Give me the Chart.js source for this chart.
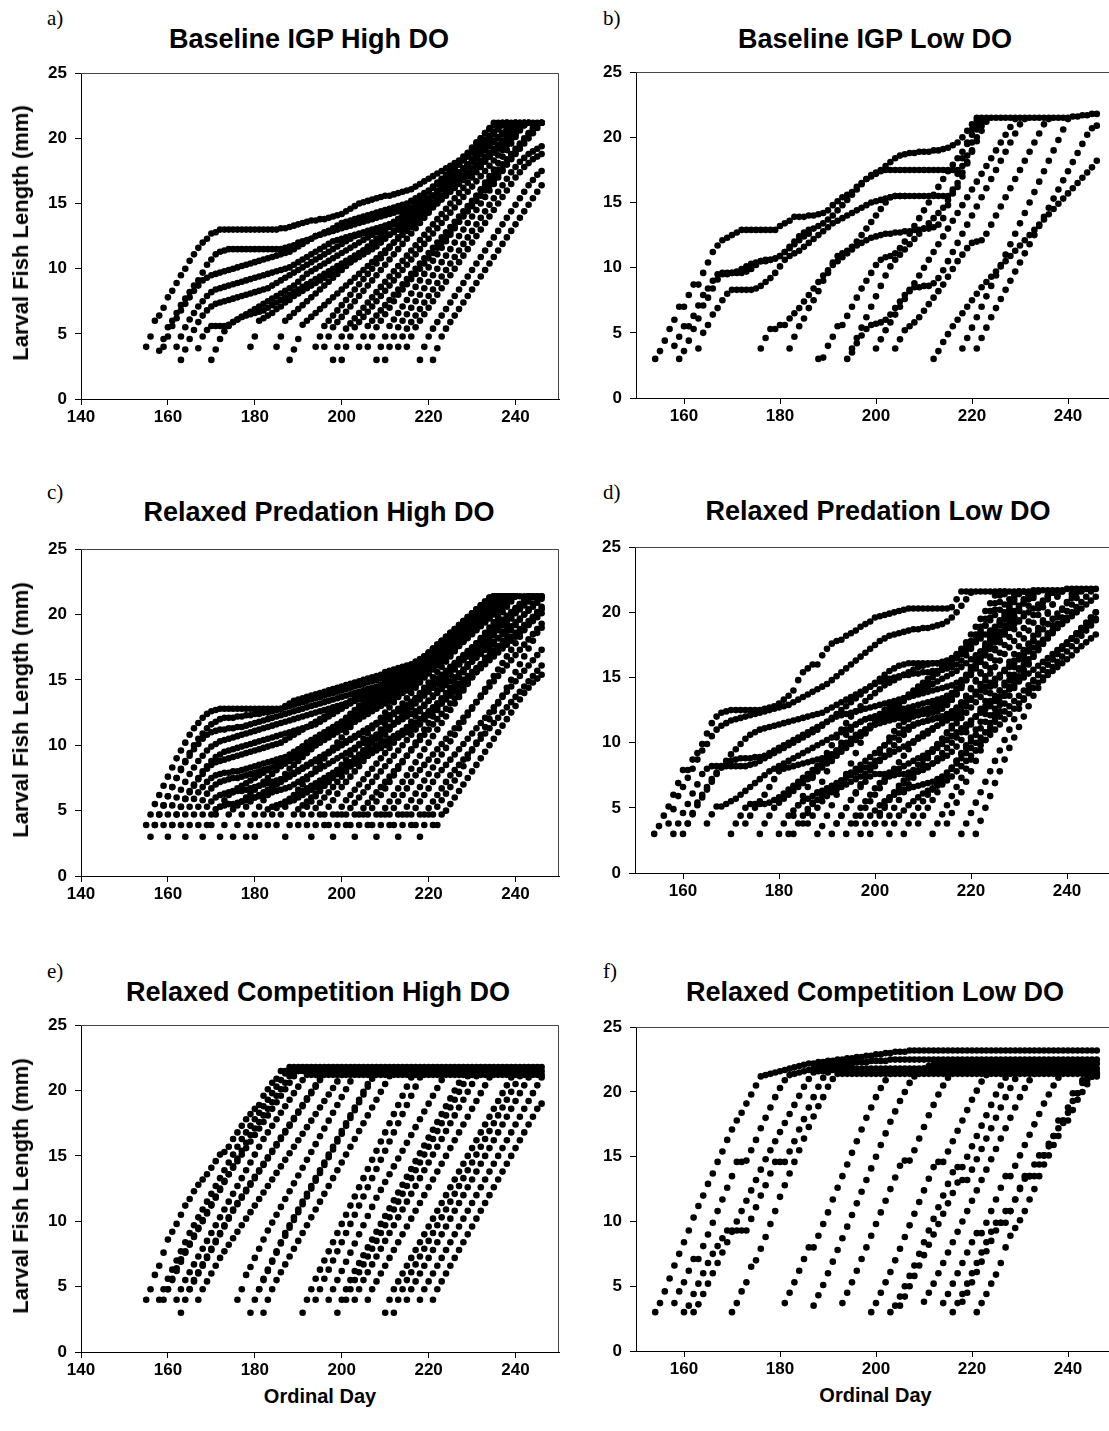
<!DOCTYPE html>
<html>
<head>
<meta charset="utf-8">
<script src="https://cdn.jsdelivr.net/npm/chart.js@4.4.1/dist/chart.umd.min.js"></script>
<style>
  html, body { margin: 0; padding: 0; background: #fff; }
  body { width: 1109px; height: 1431px; position: relative; overflow: hidden; font-family: "Liberation Sans", Arial, sans-serif; }
  .title { position: absolute; font-weight: bold; font-size: 27px; line-height: 27px; white-space: nowrap; transform: translateX(-50%); }
  .letter { position: absolute; font-family: "Liberation Serif", "Times New Roman", serif; font-size: 21px; line-height: 21px; }
  .ylab { position: absolute; font-weight: bold; font-size: 22px; line-height: 22px; white-space: nowrap; transform: translate(-50%, -50%) rotate(-90deg); }
  .xlab { position: absolute; font-weight: bold; font-size: 20px; line-height: 20px; white-space: nowrap; transform: translateX(-50%); }
</style>
</head>
<body>
<script>
// axis ticks
const dayTicksLeft = [140, 160, 180, 200, 220, 240];
const dayTicksRight = [160, 180, 200, 220, 240];
const lengthTicks = [0, 5, 10, 15, 20, 25];

const panelTitles = ['Baseline IGP High DO', 'Baseline IGP Low DO', 'Relaxed Predation High DO',
  'Relaxed Predation Low DO', 'Relaxed Competition High DO', 'Relaxed Competition Low DO'];
const panelLetters = ['a)', 'b)', 'c)', 'd)', 'e)', 'f)'];

// one entry per larva: [first ordinal day, daily lengths in tenths of a mm]
const growthA = [
  [155,[40,48,60,64,70,78,83,89,95,100,106,111,116,120,123,127,128,130,130,130,130,130,130,130,130,130,130,130,130,130,130,131,131,132,133,134,135,136,137,137,138,138,139,140,141,142,144,146,148,150,151,152,153,154,155,156,156,157,158,159,160,161,163,165,167,169,171,173,175,177,179,181,183,186,189,193,197,200,204,207,210,212,212,212,212,212,212,212,212,212,212,212]],
  [158,[37,46,55,60,66,72,77,82,87,91,97,103,107,111,113,114,115,115,115,115,115,115,115,115,115,115,115,115,115,116,117,118,120,121,122,123,125,126,128,129,131,133,135,136,137,138,139,140,141,142,143,144,145,146,147,148,149,150,152,154,156,158,160,163,166,169,172,175,178,181,184,187,190,193,196,199,202,205,208,211,212]],
  [159,[40,48,56,62,68,73,78,83,87,91,93,95,96,97,98,99,100,101,102,103,104,105,106,107,108,109,110,111,112,113,115,117,119,121,123,125,126,127,128,129,130,131,132,133,134,135,136,137,138,139,140,141,142,143,144,145,146,147,148,150,152,154,156,158,161,164,167,170,173,176,179,182,185,188,191,194,197,200,203,206,209,212]],
  [162,[40,48,55,61,66,71,75,79,82,84,85,86,87,88,89,90,91,92,93,94,95,96,97,98,99,100,101,103,105,107,109,111,113,115,117,119,121,122,123,124,125,126,127,128,129,130,131,132,133,134,135,136,137,138,139,140,142,144,146,148,150,153,156,159,162,165,168,171,174,177,180,183,186,189,192,195,198,201,204,207,210,212]],
  [163,[30,38,46,53,59,64,68,71,73,74,75,76,77,78,79,80,81,82,83,84,85,87,89,91,93,95,97,99,101,103,105,107,109,111,113,115,117,119,121,123,125,126,127,128,129,130,131,132,133,134,135,137,139,141,143,145,147,149,151,153,155,158,161,164,167,170,173,176,179,182,185,188,191,194,197,200,203,206,209,212]],
  [167,[39,48,53,56,56,56,56,57,59,61,63,65,67,69,71,73,75,77,79,81,83,85,87,90,93,96,98,100,102,104,106,108,110,112,114,116,118,120,122,124,126,128,130,132,134,136,138,140,142,144,146,148,150,153,156,159,162,165,168,171,174,177,180,183,186,189,192,195,198,201,204,207,210,212]],
  [170,[30,38,46,52,56,59,61,63,64,65,66,67,68,70,72,74,76,78,80,82,84,86,88,90,92,94,96,98,100,102,104,106,108,110,112,114,116,118,120,122,124,126,128,130,132,134,136,138,141,144,147,150,153,156,159,162,165,168,171,174,177,180,183,186,189,192,195,198,201,204,207,210,212]],
  [179,[40,48,60,62,64,66,69,71,74,76,79,81,83,85,87,89,91,93,95,97,99,101,103,105,107,109,111,113,115,117,120,123,126,129,132,135,138,141,144,147,150,153,156,159,162,165,168,171,174,177,180,183,186,189,192,195,198,201,204,207,210,212]],
  [185,[40,48,60,63,66,69,72,75,78,81,84,87,90,93,96,99,102,105,108,111,114,117,120,123,126,129,132,135,138,141,144,147,150,153,156,159,162,165,168,171,174,177,180,183,186,189,192,195,198,201,204,207,210,212]],
  [188,[30,38,46,57,60,63,66,69,72,75,78,81,84,87,90,93,96,99,102,105,108,111,114,117,120,123,126,129,132,135,138,141,144,148,152,156,160,164,168,172,176,180,184,188,192,196,200,204,208,212]],
  [194,[40,48,56,60,64,68,72,76,80,84,88,92,96,100,104,108,112,116,120,124,128,132,136,140,144,148,152,156,160,164,168,172,176,180,184,188,192,196,200,204,208,212]],
  [196,[40,48,55,59,63,67,71,75,79,83,87,91,95,99,103,107,111,115,119,123,127,131,135,139,143,147,151,155,159,163,167,171,175,179,183,187,191,195,199,203,207,211,212]],
  [198,[30,40,48,54,58,62,66,70,74,78,82,86,90,94,98,102,106,110,114,118,122,126,130,134,138,142,146,150,154,158,162,166,170,174,178,182,186,190,194,198,202,206,210,212]],
  [200,[30,40,48,55,59,63,67,71,75,79,83,87,91,95,99,103,107,111,115,119,123,127,131,135,139,143,147,151,155,159,163,167,171,175,179,183,187,191,195,199,203,207,211,212]],
  [204,[40,48,56,60,64,68,72,76,80,84,88,92,96,100,104,108,112,116,120,124,128,132,136,140,144,148,152,156,160,164,168,172,176,180,184,188,192,196,200,204,208,211,212]],
  [206,[40,48,55,60,65,70,75,80,84,88,92,96,100,104,108,112,116,120,124,128,132,136,140,144,148,152,156,160,164,168,172,176,180,184,188,192,196,200,204,208,212]],
  [208,[30,40,48,56,61,66,71,76,81,86,91,96,101,106,111,116,121,126,131,136,141,146,151,156,161,166,171,176,181,186,191,196,201,206,210,212]],
  [210,[30,40,48,55,60,65,70,75,80,85,90,95,100,105,110,115,120,125,130,135,140,145,150,155,160,165,170,175,180,185,190,195,199,203,207,210,212]],
  [213,[40,48,54,59,64,69,74,79,84,89,94,99,104,109,114,119,124,129,134,139,144,149,154,159,164,169,174,178,182,185,188,190,192,194]],
  [215,[40,48,55,60,65,70,75,80,85,90,95,100,105,110,115,120,125,130,135,140,145,150,155,160,165,170,174,178,181,184,186,188]],
  [218,[30,40,48,54,59,64,69,74,79,84,89,94,99,104,109,114,119,124,129,134,139,144,149,154,159,164,168,172,175]],
  [221,[30,39,48,54,59,64,69,74,79,84,89,94,99,104,109,114,119,124,129,134,139,144,149,154,159,164]]
];

const growthB = [
  [154,[30,36,44,53,60,70,70,79,87,87,96,104,112,117,121,123,125,127,129,129,129,129,129,129,129,129,132,134,136,139,139,139,140,140,141,142,144,148,151,154,156,158,162,165,168,170,172,175,178,181,184,186,187,188,188,189,189,189,190,190,191,192,194,196,200,205,210,215,215,215,215,215,215,215,215,215,215,215,215,215,215,215,215,215,215,215,215,216,216,217,217,218,218]],
  [158,[40,47,55,55,63,71,79,84,90,95,95,95,96,97,99,101,103,104,105,105,106,107,109,112,116,120,124,127,129,130,132,134,137,140,144,148,152,156,160,164,168,171,173,174,175,175,175,175,175,175,175,175,175,175,175,175,175,175,175,175,178,186,196,206,213]],
  [159,[30,36,44,53,61,71,77,84,91,96,96,96,96,96,97,99,102,105,106,106,107,109,112,115,118,121,124,126]],
  [163,[38,50,56,64,69,75,80,83,83,83,83,83,84,86,89,92,96,101,106,109,111,113,116,119,122,125,128,131,134,136,138,140,142,144,146,148,150,151,152,153,154,155,155,155,155,155,155,155,155,155,155,155,155,157,162,170,180,190,200,209,214]],
  [176,[38,46,53,53,56,56,61,65,69,74,79,84,89,94,98,102,105,108,111,114,117,119,121,123,124,125,126,126,127,127,128,128,129,129,130,130,131,133,138,148,160,172,184,196,206,213]],
  [182,[38,47,55,61,69,75,82,90,96,104,109,111,113,116,120,125,130,135,140,145,150,154,155,155,155]],
  [188,[30,31,40,47,55,56,63,70,77,84,90,96,102,106,108,109,111,115,120,126,132,138,144,150,156,162,168,174,179,184,189,195,202,209,214]],
  [194,[30,35,42,48,53,56,57,58,60,64,69,74,79,83,85,85,86,86,88,92,98,105,112,119,126,133,140,147,154,161,168,175,182,189,196,203,210,214]],
  [195,[38,46,54,62,70,78,86,94,101,106,110,114,118,122,126,130,134,138,142,146,152,158,165,173,181,189,197,205,212]],
  [200,[38,45,52,58,64,70,76,82,88,94,100,106,112,118,124,130,136,142,148,154,160,166,172,178,184,190,196,202,208,214]],
  [204,[38,45,52,55,58,62,67,72,77,82,87,93,99,105,110,115,119,120,121,126,133,140,147,154,161,168,175,182,189,196,203,210,214]],
  [212,[30,36,43,49,55,60,65,70,75,80,85,89,93,97,101,105,109,113,117,121,125,129,133,137,141,145,149,153,157,161,165,169,173,177,182]],
  [218,[38,46,54,62,70,78,86,94,102,110,118,126,134,142,150,158,166,174,182,190,198,206,214]],
  [221,[38,46,54,62,69,76,83,90,97,104,111,118,125,132,139,146,153,160,167,174,181,188,195,202,207,209]]
];

const growthC = [
  [155,[39,47,55,62,69,76,83,90,96,102,108,113,117,121,124,126,127,128,128,128,128,128,128,128,128,128,128,128,128,128,128,128,130,132,134,135,136,137,138,139,140,141,142,143,144,145,146,147,148,149,150,151,152,153,154,156,157,158,159,160,161,162,164,166,168,171,174,177,180,183,186,189,192,195,198,201,204,207,210,213,214,214,214,214,214,214,214,214,214,214,214,214]],
  [157,[39,47,54,61,68,75,82,88,94,100,105,109,113,116,118,120,121,121,121,122,122,123,123,124,124,125,125,126,127,128,129,130,131,132,133,134,135,136,137,138,139,140,141,142,143,144,145,146,147,148,149,150,151,152,153,154,155,156,157,158,160,162,164,167,170,173,176,179,182,185,188,191,194,197,200,203,206,209,212,214]],
  [156,[30,39,47,54,61,68,75,81,87,92,97,101,105,108,110,111,112,112,113,113,114,114,115,116,117,118,119,120,121,122,123,124,125,126,127,128,129,130,131,132,133,134,135,136,137,138,139,140,141,142,143,144,145,146,147,148,149,150,151,152,153,154,156,158,160,163,166,169,172,175,178,181,184,187,190,193,196,199,202,205,208,211,214]],
  [159,[39,47,54,60,66,72,78,83,88,92,96,99,101,103,104,105,106,107,108,109,110,111,112,113,114,115,116,117,118,119,120,121,122,123,124,125,126,127,128,129,130,131,132,133,134,135,136,137,138,139,140,141,142,143,144,145,147,149,151,153,155,158,161,164,167,170,173,176,179,182,185,188,191,194,197,200,203,206,209,212,214]],
  [160,[30,39,47,53,59,65,70,75,80,84,88,91,93,95,96,97,98,99,100,101,102,103,104,105,106,107,108,109,110,111,112,113,114,115,116,118,120,122,124,126,128,130,132,134,136,138,140,142,144,146,148,150,152,154,156,158,160,162,164,166,168,171,174,177,180,183,186,189,192,195,198,201,204,207,210,213,214]],
  [161,[39,47,53,59,64,69,74,78,82,85,87,88,89,90,91,92,93,94,95,96,97,98,99,100,101,102,104,106,108,110,112,114,116,118,120,122,124,126,128,130,132,134,136,138,140,141,142,143,144,145,146,147,148,149,150,152,154,156,158,160,163,166,169,172,175,178,181,184,187,190,193,196,199,202,205,208,211,214]],
  [163,[39,47,53,59,64,68,72,75,77,78,79,79,80,80,81,82,83,84,85,86,87,88,89,90,91,93,95,97,99,101,103,105,107,109,111,113,115,117,119,121,123,125,127,129,131,133,135,137,139,141,143,145,147,149,151,154,157,160,163,166,169,172,175,178,181,184,187,190,193,196,199,202,205,208,211,214]],
  [164,[30,39,47,53,58,63,67,70,72,73,74,75,75,76,77,78,79,80,81,82,83,84,85,86,88,90,92,94,96,98,100,102,104,106,108,110,112,114,116,118,120,122,124,126,128,130,132,134,136,138,140,142,144,146,149,152,155,158,161,164,167,170,173,176,179,182,185,188,191,194,197,200,203,206,209,212,214]],
  [167,[39,47,53,57,60,62,63,64,64,65,65,66,67,68,69,70,71,72,73,74,75,77,79,81,83,85,87,89,91,93,95,97,99,101,103,105,107,109,111,113,115,117,119,121,123,125,127,129,131,133,135,138,141,144,147,150,153,156,159,162,165,168,171,174,177,180,183,186,189,192,195,198,201,204,207,210,213,214]],
  [168,[30,39,47,51,53,54,55,55,56,57,58,59,60,61,62,63,64,65,66,67,68,70,72,74,76,78,80,82,84,86,88,90,92,94,96,98,100,102,104,106,108,110,112,114,116,118,120,122,124,126,128,131,134,137,140,143,146,149,152,155,158,161,164,167,170,173,176,179,182,185,188,191,194,197,200,203,206,209,212]],
  [170,[39,47,53,58,62,65,67,69,71,73,75,77,79,81,83,85,87,89,91,93,95,97,99,101,103,105,107,109,111,113,115,117,119,121,123,125,127,129,131,133,135,137,139,141,143,145,147,149,151,153,156,159,162,165,168,171,174,177,180,183,186,189,192,195,198,201,204,207,210,213,214]],
  [172,[30,39,47,51,54,57,60,63,66,69,72,75,78,81,84,87,90,93,96,99,102,104,106,108,110,112,114,116,118,120,122,124,126,128,130,132,134,136,138,140,142,144,146,148,150,152,154,156,158,160,163,166,169,172,175,178,181,184,187,190,193,196,199,202,205,208,211,214]],
  [175,[30,39,47,53,57,60,62,64,66,68,70,72,74,76,78,80,82,84,86,88,90,92,94,96,98,100,102,104,106,108,110,112,114,116,118,120,122,124,126,128,130,133,136,139,142,145,148,151,154,157,160,163,166,169,172,175,178,181,184,187,190,193,196,199,202,205,208,211,214]],
  [178,[30,39,47,53,58,62,66,70,74,78,82,85,88,91,94,97,100,103,106,109,112,115,118,121,124,127,130,132,134,136,138,140,142,144,146,148,150,152,154,156,158,160,162,164,166,168,171,174,177,180,183,186,189,192,195,198,201,204,207,210,213,214]],
  [180,[30,39,47,51,53,54,55,56,57,58,60,62,64,66,68,70,72,74,76,78,80,82,84,86,88,90,92,94,96,98,100,102,104,106,108,110,112,114,117,120,123,126,129,132,135,138,141,144,147,150,153,156,159,162,165,168,171,174,177,180,183,186,189,192,195,198,201]],
  [183,[39,47,52,55,57,59,61,63,65,67,69,71,73,75,77,79,81,83,85,87,89,91,93,95,97,99,101,103,105,107,109,111,113,115,117,120,123,126,129,132,135,138,141,144,147,150,153,156,159,162,165,168,171,174,177,180,183,186,189,192,195,198,201,204]],
  [185,[39,47,53,58,62,66,70,74,78,82,86,90,94,98,102,106,110,114,118,122,126,129,132,135,138,141,144,147,150,153,156,159,162,165,168,171,174,177,180,183,186,189,192,195,198,201,204,207,210,213,214]],
  [187,[30,39,47,51,54,57,60,63,66,69,72,75,78,81,84,87,90,93,96,99,102,105,108,111,114,117,120,123,126,129,132,135,138,141,144,147,150,153,156,159,162,165,168,171,174,177,180,183,186,189,192,195,198,201,204,207,210,213,214]],
  [190,[39,47,53,57,61,65,69,73,77,81,85,89,93,97,101,105,109,113,117,121,125,129,133,137,141,145,149,153,157,161,164,167,170,173,176,179,182,185,188,191,194,197,200,203,206,209,212,214]],
  [192,[39,47,52,56,60,64,68,72,76,80,84,88,92,96,100,104,108,112,116,120,124,128,132,136,140,144,148,152,156,160,164,168,172,176,180,184,188,192,196,200,204,208,212,214]],
  [193,[30,39,47,47,53,58,63,68,72,76,80,84,88,92,96,100,104,108,112,116,120,124,128,132,136,140,144,148,152,156,160,164,168,172,176,180,184,188,192,196,200,204,208,212,214]],
  [196,[39,39,47,47,53,58,62,66,70,74,78,82,86,90,94,98,102,106,110,114,118,122,126,130,134,138,142,146,150,154,158,162,166,170,174,178,182,186,190,194,198,202,206,210,214]],
  [198,[30,39,47,47,52,56,60,64,68,72,76,80,84,88,92,96,100,104,108,112,116,120,124,128,132,136,140,144,148,152,156,160,164,168,172,176,180,184,188,192,196,200,204,208,212,214]],
  [201,[39,39,47,47,52,56,60,64,68,72,76,80,84,88,92,96,100,104,108,112,116,120,124,128,132,136,140,144,148,152,156,160,164,168,172,176,180,184,188,192,196,200,204,208,212,214]],
  [203,[30,39,47,47,52,57,62,67,72,77,82,87,92,97,102,107,112,117,122,127,132,137,142,147,152,157,162,167,172,177,182,187,192,197,202,207,212,214]],
  [206,[39,39,47,47,52,57,62,67,72,77,82,87,92,97,102,107,112,117,122,127,132,137,142,147,152,157,162,167,172,177,182,187,192,197,202,207,212,214]],
  [208,[30,39,47,47,52,57,62,67,72,77,81,85,89,93,97,101,105,109,113,117,121,125,129,133,137,141,145,149,153,157,161,165,169,173,177,181,185,189,193]],
  [211,[39,39,47,47,53,58,63,68,73,78,83,88,93,98,103,108,113,118,123,128,133,138,143,148,153,158,163,168,173,178,183,188,193,198,202,206]],
  [213,[30,39,47,47,52,57,62,67,72,77,81,85,89,93,97,101,105,109,113,117,121,125,129,133,137,141,145,149,153,157,161,165,169,173]],
  [216,[39,39,47,47,52,57,62,67,72,77,81,85,89,93,97,101,105,109,113,117,121,125,129,133,137,141,145,149,153,157,161]],
  [218,[30,39,47,47,53,58,63,68,73,78,84,90,96,102,108,114,120,126,132,138,144,150,156,162,168,174,180,186,190]],
  [221,[39,39,47,50,55,60,65,70,75,80,85,90,95,100,105,110,115,120,125,130,135,140,144,148,151,154]]
];

const growthD = [
  [154,[30,36,44,51,60,69,79,79,87,92,99,107,115,120,123,124,125,125,125,125,125,125,125,126,127,128,130,133,136,140,148,154,157,160,160,167,172,176,178,179,182,184,186,189,191,193,196,197,198,199,200,201,202,203,203,203,203,203,203,203,203,203,204,210,216,216,216,216,216,216,216,216,216,216,216,216,216,216,216,217,217,217,217,217,217,217,218,218,218,218,218,218,218]],
  [157,[38,49,59,66,73,80,87,94,99,105,110,113,115,117,118,119,120,121,122,123,124,125,126,127,128,129,131,133,135,137,139,141,143,145,148,151,154,157,160,163,166,169,172,175,178,180,182,183,184,185,186,187,187,188,188,189,190,191,193,196,200,205,210,215]],
  [158,[30,38,46,53,61,68,76,80,82,82,82,82,82,82,82,82,83,84,86,88,90,92,94,96,98,100,102,104,106,108,110,113,116,119,122,125,128,131,134,137,140,143,146,149,152,155,157,159,160,161,161,161,161,161,161,161,162,163,165,168,172,177,183,189,195,201,207,213,216]],
  [160,[30,38,45,52,58,64,70,76,81,86,91,95,99,103,106,108,110,111,112,113,114,115,116,117,118,119,120,121,122,123,125,127,129,131,133,135,137,139,141,143,145,147,148,149,150,151,152,152,153,153,154,154,155,155,156,157,158,160,163,167,172,178,184,190,196,202,208,214]],
  [161,[38,46,54,60,66,72,77,81,84,86,87,88,88,88,89,89,90,92,94,96,98,100,102,104,106,108,110,112,114,116,118,120,121,122,123,124,125,126,127,128,129,130,131,132,133,134,135,136,137,138,139,140,141,142,143,144,146,148,151,155,160,165,170,175,180,185,190,195,200,205,210,215]],
  [165,[38,45,51,51,53,55,57,60,63,66,69,72,75,78,80,82,84,86,88,90,92,94,96,98,100,102,104,106,108,110,112,114,116,118,119,120,121,122,123,124,125,126,127,128,129,130,131,132,133,134,136,138,141,144,148,152,157,162,167,172,177,182,187,192,197,202,207,212,216]],
  [170,[30,38,44,50,53,53,53,53,54,56,58,61,64,67,70,73,76,79,82,85,88,91,94,97,100,103,106,108,110,112,114,115,116,117,118,119,120,120,121,121,122,122,123,124,126,129,133,138,144,150,156,162,168,174,180,186,192,198,204,210,215]],
  [173,[38,44,50,55,60,66,72,78,80,81,82,83,84,85,86,87,88,89,90,92,95,98,101,104,107,110,113,116,119,122,125,128,131,134,137,140,143,146,149,152,155,158,161,164,167,170,174,178,182,186,190,194,198,202,206,210,214,216]],
  [176,[30,38,44,50,54,57,60,63,66,69,72,75,78,81,84,87,90,93,96,99,102,105,108,111,114,117,120,123,126,129,132,135,138,141,144,147,150,153,156,159,162,165,168,171,174,177,180,183,186,189,192,195,198,201,204,207,210,213,216]],
  [180,[30,38,44,48,52,55,57,59,61,63,65,67,69,71,73,75,77,79,81,83,85,87,89,91,93,95,97,99,101,103,105,107,110,113,116,119,122,125,128,131,134,137,140,143,146,149,152,155,158,161,164,167,170,173,176,179,182,185,188,191,194,197,200,203,206,209,212]],
  [182,[30,44,52,59,66,73,80,86,92,98,104,110,115,120,124,128,132,135,138,141,144,146,148,150,152,154,156,158,159,160,161,161,161,162,163,165,168,172,177,183,189,195,201,207,213,216]],
  [183,[30,38,44,49,53,56,59,62,65,68,71,74,77,80,83,86,89,92,95,98,101,104,107,110,112,114,115,116,117,118,119,120,121,123,126,130,135,141,147,153,159,165,171,177,183,189,195,201,207,213,216]],
  [185,[38,46,54,62,70,78,86,94,100,106,110,114,116,118,119,120,120,121,121,122,122,123,123,124,124,125,125,126,127,128,130,133,137,142,148,154,160,166,172,178,184,190,196,202,208,214,216]],
  [186,[38,44,50,55,59,62,64,66,68,70,72,74,76,79,82,86,90,94,98,102,106,110,113,115,116,117,118,119,120,122,124,127,131,136,142,148,154,160,166,172,178,184,190,196,202,208,214,216]],
  [188,[30,36,44,52,60,68,76,84,92,100,107,113,118,122,125,127,129,131,133,135,137,139,141,143,145,147,149,151,153,155,158,161,164,167,170,173,176,179,182,185,188,191,194,197,200,203,206,209,212,215]],
  [191,[30,38,44,50,56,61,66,70,74,76,76,76,77,78,80,82,84,86,88,90,92,94,96,99,102,105,108,111,114,117,120,123,126,129,132,135,138,141,144,147,150,153,156,159,162,165,168,171,174,177,180,183,186,189,192,195]],
  [192,[38,44,50,56,62,68,74,80,86,92,98,104,109,113,116,118,120,122,124,126,128,130,132,134,137,141,146,152,158,164,170,176,182,188,194,200,206,212,216]],
  [194,[30,38,44,50,55,60,65,69,72,74,75,76,76,77,77,78,79,81,84,88,92,96,100,104,108,112,116,120,124,128,132,136,140,144,148,152,156,160,164,168,172,176,180,184,188,192,196,200,204,208,212,216]],
  [196,[38,44,50,55,60,65,70,75,80,85,90,95,100,104,107,109,111,113,115,117,119,121,124,128,133,139,145,151,157,163,169,175,181,187,193,199,205,211,216]],
  [197,[30,38,44,48,52,55,58,60,62,64,65,66,67,68,69,70,72,74,77,81,86,91,96,101,106,111,116,121,126,131,136,141,146,151,156,161,166,171,176,181,186,191,196,201,206,211,216]],
  [199,[30,38,44,50,56,61,65,69,73,76,78,80,82,84,86,88,90,93,97,102,108,114,120,126,132,138,144,150,156,162,168,174,180,186,192,198,204,210,215]],
  [200,[38,46,52,57,62,67,71,75,79,83,87,91,95,99,103,107,111,115,119,123,127,131,135,139,143,147,151,155,159,163,167,171,175,179,183,187,191,195,199,203,207,211,215]],
  [202,[38,44,50,56,62,68,73,78,83,88,93,98,103,108,113,118,123,128,133,138,143,148,153,158,163,168,173,178,183,188,193,198,203,208,213,216]],
  [203,[30,38,44,48,52,55,58,61,63,65,67,69,71,74,78,82,86,90,94,98,102,106,110,114,118,122,126,130,134,138,142,146,150,154,158,162,166,170,174,178,182,186,190,194]],
  [206,[30,38,44,50,55,60,64,68,72,76,80,84,88,92,96,100,104,108,112,116,120,124,128,132,136,140,144,148,152,156,160,164,168,172,176,180,184,188,192,196,200]],
  [209,[38,44,50,56,62,68,74,80,86,92,98,104,110,116,122,128,134,140,146,152,158,164,170,176,182,188,194,200,206,212,216]],
  [212,[30,38,45,52,59,66,73,80,87,94,101,108,115,122,129,136,143,150,157,164,171,178,185,192,199,206,213,216]],
  [215,[38,46,54,62,70,78,86,94,102,110,118,124,130,136,142,148,154,160,166,172,178,184,190,196,202,208,214,216]],
  [218,[30,38,46,54,62,70,78,86,94,102,110,118,126,133,140,147,152,156,160,164,168,172,176,180,184,188,192,196,200]],
  [221,[30,40,50,59,69,78,87,96,104,112,120,128,136,142,148,152,155,158,161,164,167,171,174,177,180,183]]
];

const growthE = [
  [155,[40,48,59,66,76,86,92,98,105,112,117,123,128,132,136,141,146,151,153,157,163,168,173,178,182,186,189,196,201,206,209,215,215,215,215,215,215,215,215,215,215,215,215,215,215,215,215,215,215,215,215,215,215,215,215,215,215,215,215,215,215,215,215,215,215,215,215,215,215,215,215,215,215,215,215,215,215,215,215,215,215,215,215,215,215,215,215,215,215,215,215,215]],
  [158,[40,48,56,63,70,77,84,91,97,103,109,115,121,127,133,139,145,151,157,163,168,173,178,183,188,193,198,203,208,213,218,218,218,218,218,218,218,218,218,218,218,218,218,218,218,218,218,218,218,218,218,218,218,218,218,218,218,218,218,218,218,218,218,218,218,218,218,218,218,218,218,218,218,218,218,218,218,218,218,218,218,218,218,218,218,218,218,218,218]],
  [159,[40,48,55,62,69,76,82,88,94,100,106,112,118,124,130,136,142,148,154,160,166,171,176,181,186,191,196,201,206,211,214]],
  [160,[48,56,64,71,77,83,89,95,101,107,113,119,125,131,136,141,146,151,156,161,166,171,176,181,186,191,196,201,206,211,215]],
  [162,[40,48,55,61,67,73,79,85,91,97,103,109,115,121,127,133,139,145,151,157,163,168,173,178,183,188,193,198,203,208,212,212,212,212,212,212,212,212,212,212,212,212,212,212,212,212,212,212,212,212,212,212,212,212,212,212,212,212,212,212,212,212,212,212,212,212,212,212,212,212,212,212,212,212,212,212,212,212,212,212,212,212,212,212,212]],
  [163,[30,40,48,55,61,67,73,79,85,91,97,103,109,114,119,124,129,134,139,144,149,154,159,164,169,174,179,184,189,194,199,204,209,214]],
  [165,[48,54,60,66,72,78,84,90,96,102,108,113,118,123,128,133,138,143,148,153,158,163,168,173,178,183,188,193,198,203,208,213,216]],
  [167,[40,48,54,60,66,72,77,82,87,92,97,102,107,112,117,122,127,132,137,142,147,152,157,162,167,172,177,182,187,192,197,202,207,212,215]],
  [176,[40,48,59,65,72,79,86,93,99,105,111,117,123,129,135,141,147,153,159,165,171,177,183,189,195,201,207,213]],
  [179,[30,40,48,56,63,70,77,84,91,97,103,109,115,121,127,133,139,145,151,157,163,169,175,181,187,193,199,205,211,216]],
  [181,[48,55,62,69,76,83,89,95,101,107,113,119,125,131,137,143,149,155,161,167,173,179,185,191,197,203,209,214]],
  [182,[30,40,48,55,61,67,73,79,85,91,97,103,109,115,121,127,133,139,145,151,157,163,169,175,181,187,193,199,205,211,215]],
  [191,[30,40,48,56,63,70,77,84,91,98,105,112,119,126,133,140,147,154,161,168,175,182,189,196,203,210,215]],
  [194,[40,48,56,63,70,77,84,91,98,105,112,119,126,133,140,147,154,161,168,175,182,189,196,203,210,216]],
  [197,[40,48,55,62,69,76,83,90,97,104,111,118,124,130,136,142,148,154,160,166,172,178,184,190,196,202,208,214]],
  [199,[30,40,48,55,62,68,74,80,86,92,98,104,110,116,122,128,134,140,146,152,158,164,170,176,182,188,194,200,206,212,216]],
  [201,[40,48,55,61,67,73,79,85,91,97,103,109,115,121,127,133,139,145,151,157,163,169,175,181,187,193,199,205,211,215]],
  [203,[40,48,55,61,67,73,79,85,91,97,103,109,115,121,127,133,139,145,151,157,163,169,175,181,187,193,199,205,211,215]],
  [206,[40,48,54,60,66,72,78,84,90,96,102,108,114,120,126,132,138,144,150,156,162,168,174,180,186,192,198,204,210,214]],
  [210,[30,40,48,54,60,66,72,78,84,90,96,102,108,114,120,126,132,138,144,150,156,162,168,174,180,186,192,198,204,210,215]],
  [212,[30,40,48,55,61,67,73,79,85,91,97,103,109,115,121,127,133,139,145,151,157,163,169,175,181,187,193,199,205,211,215]],
  [215,[40,48,54,60,66,72,78,84,90,96,102,108,114,120,126,132,138,144,150,156,162,168,174,180,186,192,198,204,210,214]],
  [218,[40,48,54,60,66,72,78,84,90,96,102,108,114,120,126,132,138,144,150,156,162,168,174,180,186,192,198,204,210]],
  [221,[40,48,54,60,66,72,78,84,90,96,102,108,114,120,126,132,138,144,150,156,162,168,174,180,186,190]]
];

const growthF = [
  [154,[30,37,46,56,66,75,84,93,103,112,120,129,137,146,154,163,171,178,184,191,198,205,212,213,214,215,216,217,218,219,220,221,222,222,223,223,224,224,225,225,226,226,227,227,228,228,229,229,230,230,231,231,231,232,232,232,232,232,232,232,232,232,232,232,232,232,232,232,232,232,232,232,232,232,232,232,232,232,232,232,232,232,232,232,232,232,232,232,232,232,232,232,232]],
  [158,[37,46,53,62,71,71,81,90,99,108,117,126,135,146,146,147,155,163,172,180,188,196,203,209,213,214,215,216,217,218,219,220,220,221,221,222,222,222,223,223,223,224,224,224,224,225,225,225,225,225,225,225,225,225,225,225,225,225,225,225,225,225,225,225,225,225,225,225,225,225,225,225,225,225,225,225,225,225,225,225,225,225,225,225,225,225,225,225,225]],
  [160,[30,35,44,52,60,68,75,81,87,93,93,93,93,93,102,111,120,128,137,146,146,146,154,162,171,179,188,196,204,211,215]],
  [162,[30,36,44,52,60,68,76,84,92,100,108,116,124,132,140,148,155,162,169,176,183,190,197,204,210,215,216,216,217,217,218,218,218,218,218,218,218,218,218,218,218,218,218,218,218,218,218,218,218,218,218,218,218,218,218,218,218,218,218,218,218,218,218,218,218,218,218,218,218,218,218,218,218,218,218,218,218,218,218,218,218,218,218,218,218]],
  [170,[30,37,46,53,65,70,79,88,98,108,119,128,137,146,155,164,173,181,189,196,204,210,214,214,214,214,214,214,214,214,214,214,214,214,214,214,214,214,214,214,214,214,214,214,214,214,214,214,214,214,214,214,214,214,214,214,214,214,214,214,214,214,214,214,214,214,214,214,214,214,214,214,214,214,214,214,214]],
  [181,[37,45,53,62,71,80,80,89,98,107,117,126,135,144,153,162,171,180,188,196,203,209,214]],
  [187,[35,43,51,60,69,78,87,96,105,114,123,132,141,150,159,168,177,185,193,200,207,212,215,218,220,221,222,222,222,222,222,222,222,222,222,222,222,222,222,222,222,222,222,222,222,222,222,222,222,222,222,222,222,222,222,222,222,222,222,222]],
  [193,[37,45,53,62,71,80,89,98,107,116,125,134,143,147,147,155,164,173,182,190,198,205,211,215]],
  [199,[30,37,45,53,61,70,79,88,97,106,115,124,133,142,146,146,154,162,170,178,186,194,201,208,213,216]],
  [203,[30,35,42,50,58,66,75,84,93,102,111,120,129,138,142,142,150,158,166,174,182,190,198,205,211,215]],
  [205,[35,42,50,58,66,74,82,90,98,106,114,122,130,132,132,140,148,156,164,172,180,188,196,203,210,215]],
  [210,[38,45,52,60,68,76,84,92,100,108,116,124,132,140,148,156,164,172,180,188,196,203,209,214]],
  [214,[37,44,52,60,68,76,84,91,91,99,108,117,126,135,135,143,151,159,167,175,183,191,198,205,211,215]],
  [216,[30,37,44,52,60,68,76,84,92,99,99,108,108,117,126,135,135,144,151,151,160,166,178,178,188,199,199,209,209,212,212]],
  [218,[38,45,53,61,69,77,85,93,99,99,108,117,125,133,135,135,144,151,158,166,172,178,178,186,194,200,206,212,215]],
  [221,[30,37,44,52,59,68,80,89,95,101,108,117,125,135,144,151,159,166,176,184,193,199,207,212,212,213]]
];

// page layout of the six panels: plot box [left, top, right, bottom] in px
const panels = [
  { fish: growthA, xMin: 140, xTicks: dayTicksLeft,  box: [81, 67, 559, 399],      titleAt: [309, 49],   letterAt: [47, 8],    yTitle: true,  xTitle: false },
  { fish: growthB, xMin: 150, xTicks: dayTicksRight, box: [636, 66, 1116, 398],    titleAt: [875, 49],   letterAt: [603, 8],   yTitle: false, xTitle: false },
  { fish: growthC, xMin: 140, xTicks: dayTicksLeft,  box: [81, 543, 559, 876],     titleAt: [319, 522],  letterAt: [47, 482],  yTitle: true,  xTitle: false },
  { fish: growthD, xMin: 150, xTicks: dayTicksRight, box: [635, 541, 1115, 873],   titleAt: [878, 521],  letterAt: [603, 482], yTitle: false, xTitle: false },
  { fish: growthE, xMin: 140, xTicks: dayTicksLeft,  box: [81, 1019, 559, 1352],   titleAt: [318, 1002], letterAt: [47, 961],  yTitle: true,  xTitle: true },
  { fish: growthF, xMin: 150, xTicks: dayTicksRight, box: [636, 1021, 1116, 1351], titleAt: [875, 1002], letterAt: [603, 961], yTitle: false, xTitle: true }
];

const Y_AXIS_W = 52, X_AXIS_H = 30, PAD_TOP = 12, PAD_RIGHT = 8;
const tickFont = { family: '"Liberation Sans", Arial, sans-serif', size: 17, weight: 'bold' };

// top and right edges of the plot frame
const framePlugin = {
  id: 'frame',
  afterDraw(chart) {
    const { ctx, chartArea: a } = chart;
    ctx.save();
    ctx.strokeStyle = '#444';
    ctx.lineWidth = 1;
    ctx.beginPath();
    ctx.moveTo(a.left, Math.round(a.top) + 0.5);
    ctx.lineTo(Math.round(a.right) - 0.5, Math.round(a.top) + 0.5);
    ctx.lineTo(Math.round(a.right) - 0.5, a.bottom);
    ctx.stroke();
    ctx.restore();
  }
};

function addText(cls, text, left, top) {
  const el = document.createElement('div');
  el.className = cls;
  el.textContent = text;
  el.style.left = left + 'px';
  el.style.top = top + 'px';
  document.body.appendChild(el);
}

panels.forEach((p, i) => {
  const [l, t, r, b] = p.box;
  const w = Y_AXIS_W + (r - l) + PAD_RIGHT;
  const h = PAD_TOP + (b - t) + X_AXIS_H;
  const canvas = document.createElement('canvas');
  canvas.width = w;
  canvas.height = h;
  canvas.style.cssText = `position:absolute;left:${l - Y_AXIS_W}px;top:${t - PAD_TOP}px;width:${w}px;height:${h}px;`;
  document.body.appendChild(canvas);

  const points = [];
  p.fish.forEach(([start, lens]) => {
    lens.forEach((v, d) => points.push({ x: start + d, y: v / 10 }));
  });

  new Chart(canvas, {
    type: 'scatter',
    data: {
      datasets: [{
        data: points,
        pointRadius: 3.3,
        pointHoverRadius: 3.3,
        pointBackgroundColor: '#000',
        pointBorderWidth: 0,
        borderColor: '#000'
      }]
    },
    options: {
      responsive: false,
      animation: false,
      events: [],
      layout: { padding: { top: PAD_TOP, right: PAD_RIGHT, left: 0, bottom: 0 } },
      plugins: { legend: { display: false }, tooltip: { enabled: false } },
      scales: {
        x: {
          type: 'linear',
          min: p.xMin,
          max: 250,
          afterBuildTicks: s => { s.ticks = p.xTicks.map(v => ({ value: v })); },
          afterFit: s => { s.height = X_AXIS_H; },
          grid: { drawOnChartArea: false, color: '#000', tickLength: 6 },
          border: { color: '#000', width: 1 },
          ticks: { font: tickFont, color: '#000', padding: 2, maxRotation: 0 }
        },
        y: {
          type: 'linear',
          min: 0,
          max: 25,
          afterBuildTicks: s => { s.ticks = lengthTicks.map(v => ({ value: v })); },
          afterFit: s => { s.width = Y_AXIS_W; },
          grid: { drawOnChartArea: false, color: '#000', tickLength: 6 },
          border: { color: '#000', width: 1 },
          ticks: { font: tickFont, color: '#000', padding: 8 }
        }
      }
    },
    plugins: [framePlugin]
  });

  addText('title', panelTitles[i], p.titleAt[0], p.titleAt[1] - 23);
  addText('letter', panelLetters[i], p.letterAt[0], p.letterAt[1]);
  if (p.yTitle) addText('ylab', 'Larval Fish Length (mm)', 21, (t + b) / 2);
  if (p.xTitle) addText('xlab', 'Ordinal Day', (l + Math.min(r, 1109)) / 2 + (i === 5 ? 3 : 0), b + 34);
});
</script>
</body>
</html>
